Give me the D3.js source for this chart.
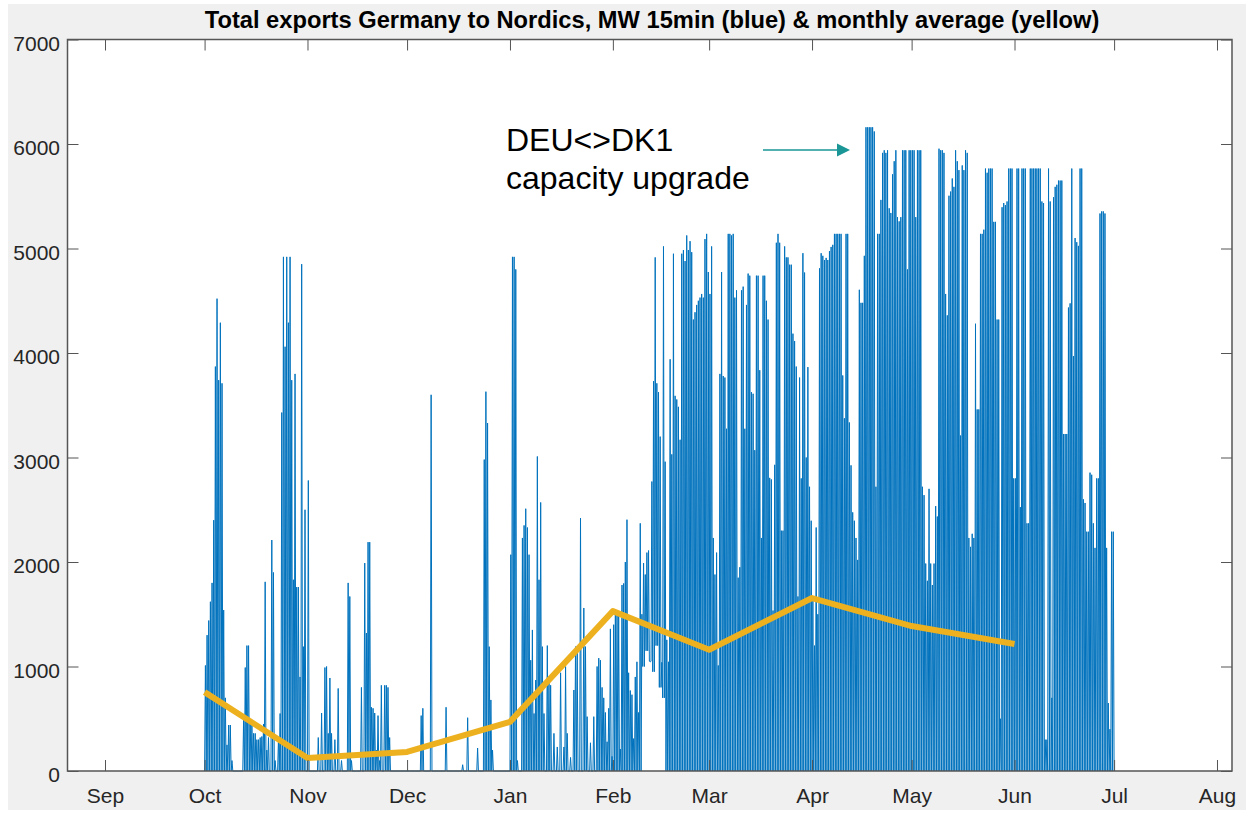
<!DOCTYPE html>
<html><head><meta charset="utf-8">
<script src="https://cdn.jsdelivr.net/npm/d3@7"></script>
<style>
html,body{margin:0;padding:0;background:#fff;}
svg{display:block;font-family:"Liberation Sans",Arial,Helvetica,sans-serif;}
</style></head><body>
<svg id="chart" width="1254" height="813"></svg>
<script>
// ---------- DATA ----------
const titleText = "Total exports Germany to Nordics, MW 15min (blue) & monthly average (yellow)";
const annotationLines = ["DEU<>DK1", "capacity upgrade"];

const xTickDates  = ["2019-09-01","2019-10-01","2019-11-01","2019-12-01","2020-01-01","2020-02-01","2020-03-01","2020-04-01","2020-05-01","2020-06-01","2020-07-01","2020-08-01"];
const xTickLabels = ["Sep","Oct","Nov","Dec","Jan","Feb","Mar","Apr","May","Jun","Jul","Aug"];
const yTicks = [0,1000,2000,3000,4000,5000,6000,7000];

// monthly average (yellow), plotted at first day of month
const avgDates = ["2019-10-01","2019-11-01","2019-12-01","2020-01-01","2020-02-01","2020-03-01","2020-04-01","2020-05-01","2020-06-01"];
const avgMW    = [755,124,182,470,1530,1160,1655,1387,1215];

// 15-min series (blue), summarised as two half-day peaks per day (MW), starting 2019-10-01
const seriesStart = "2019-10-01";
const octPeakMW = [1010,1300, 1440,1620, 1800,2400, 3870,4520, 3740,4290, 3710,1540, 700,250, 440,440, 100,0, 0,0, 0,0, 0,490, 990,1200, 1200,450, 440,360, 360,300, 300,320, 330,450, 1810,200, 320,0, 2210,1900, 100,0, 300,550, 3430,4920, 4060,4920, 4290,4920, 3740,1830, 3800,1760, 1760,900, 4850,1190, 2500,0];
const novPeakMW = [2780,0, 0,0, 0,0, 320,0, 555,0, 990,1000, 360,890, 360,0, 300,0, 790,0, 100,0, 0,0, 1800,1670, 100,0, 0,0, 0,0, 800,0, 1990,1320, 2190,2190, 610,600, 555,200, 530,100, 820,0, 820,820, 800,320, 0,0, 0,0, 0,0, 0,0, 0,0];
const decPeakMW = [0,0, 0,0, 0,0, 0,0, 530,600, 0,0, 0,0, 3600,0, 0,0, 0,0, 0,0, 0,610, 0,0, 0,0, 0,0, 0,0, 0,60, 0,0, 510,0, 0,0, 0,0, 220,0, 0,0, 2980,3630, 3330,1190, 680,200, 0,0, 0,0, 0,0, 0,0, 0,0];
const janPeakMW = [2070,4920, 4920,4800, 100,0, 0,2230, 2350,2510, 2330,2070, 1060,1350, 550,870, 3010,1830, 2570,1190, 550,0, 1200,870, 820,0, 360,0, 230,0, 940,0, 230,1000, 360,0, 130,0, 775,1190, 1130,0, 2420,0, 1560,1190, 520,0, 270,0, 520,0, 1000,1080, 1060,800, 700,560, 280,600, 1360,140];
const febPeakMW = [1400,1530, 1530,1530, 210,1780, 1795,2000, 2405,940, 770,730, 310,900, 1045,560, 2370,1500, 1990,1880, 2090,2110, 1045,2770, 3730,4915, 3710,3625, 3200,1040, 5020,2960, 1255,1045, 3940,3030, 4950,3590, 3555,3485, 3170,4950, 4985,4880, 5125,4985, 5070,4965, 4320,4390, 4460,4500, 4530,4565, 4530,5090, 5140,4775];
const marPeakMW = [4565,5020, 2230,1880, 2090,1010, 3800,4775, 3780,3765, 3275,5140, 5140,5125, 5140,4530, 4600,1850, 1950,4600, 4635,3275, 4460,4760, 4740,3625, 3610,3070, 4740,4740, 3835,2230, 4740,4740, 4500,4320, 2805,2790, 1535,2930, 5055,5140, 5055,2300, 2300,5020, 4915,4915, 4845,4845, 4185,4115, 3870,1670, 3765,2800, 4955,4770, 3000,3865, 2720,2395];
const aprPeakMW = [1650,1200, 2330,1500, 4810,4955, 4930,4890, 4910,4890, 4975,5015, 5035,5140, 5140,5140, 5140,5140, 3785,3375, 5140,5140, 3335,2925, 2475,2395, 2230,2020, 4605,4480, 4480,4930, 6160,6160, 6160,6160, 6160,6120, 2720,5140, 5140,5465, 5915,5940, 5915,5940, 5385,5340, 5710,5835, 5940,5300, 5260,5300, 5940,5940, 5940,4800, 5940,5940];
const mayPeakMW = [5940,5940, 5300,5940, 5940,5940, 2720,2640, 1985,1820, 2700,1985, 1780,1985, 2535,2435, 5955,5940, 5940,5915, 4565,4360, 5505,5545, 5670,5590, 5940,5835, 5750,3210, 5795,5750, 5940,5915, 2230,2145, 2270,2230, 4280,3460, 3460,5140, 5140,5180, 5765,5725, 5765,5765, 5765,5255, 5255,4320, 4320,500, 5395,5435, 5415,5450, 5765,5765, 5765,2800];
const junPeakMW = [2800,5765, 5765,2525, 5765,5765, 5765,2370, 2370,5765, 5765,5765, 5765,5765, 5765,5765, 5450,5435, 300,300, 5765,5450, 700,5490, 5590,5610, 5650,5650, 5650,3225, 3225,3225, 4435,4475, 5765,3970, 5100,5060, 5025,5765, 5765,2600, 2565,2290, 2290,2855, 2835,2370, 2135,2800, 2800,5335, 5355,5355, 5335,2135, 650,400, 2290,2290];
// days on which the series did not fall back to 0 MW (daily floor, MW); all other days fall to 0
const troughMW = [["2020-02-10",1000],["2020-02-11",1150],["2020-02-12",1050],["2020-02-13",950],["2020-02-14",1200],["2020-02-15",800],["2020-02-16",700]];

// ---------- LAYOUT ----------
const L = 67.5, R = 1232, T = 39.5, B = 771;
const DAY = 864e5;
const parse = s => new Date(s + "T00:00:00Z");

const svg = d3.select("#chart");
svg.append("rect").attr("x",8).attr("y",4).attr("width",1238).attr("height",806).attr("fill","#f0f0f0");
svg.append("rect").attr("x",L).attr("y",T).attr("width",R-L).attr("height",B-T).attr("fill","#ffffff");

const x = d3.scaleUtc()
  .domain([new Date(parse("2019-09-01").getTime() - 11.3*DAY), new Date(parse("2020-08-01").getTime() + 4.52*DAY)])
  .range([L, R]);
const y = d3.scaleLinear().domain([0,7000]).range([B, T]);

svg.append("clipPath").attr("id","plotclip").append("rect")
  .attr("x",L).attr("y",T-4).attr("width",R-L).attr("height",B-T+8);

// blue series points
const peaks = [].concat(octPeakMW, novPeakMW, decPeakMW, janPeakMW, febPeakMW, marPeakMW, aprPeakMW, mayPeakMW, junPeakMW);
const troughMap = new Map(troughMW.map(([d,v]) => [parse(d).getTime(), v]));
const t0 = parse(seriesStart).getTime();
const nDays = peaks.length / 2;
const pts = [];
for (let i = 0; i < nDays; i++) {
  const t = t0 + i*DAY;
  const m = troughMap.get(t) || 0;
  pts.push([t, m], [t + DAY/4, peaks[2*i]], [t + DAY/2, m], [t + 3*DAY/4, peaks[2*i+1]]);
}
pts.push([t0 + nDays*DAY, 0]);

const line = d3.line().x(d => x(new Date(d[0]))).y(d => y(d[1]));
const plot = svg.append("g").attr("clip-path","url(#plotclip)");
plot.append("path").datum(pts).attr("d", line)
  .attr("fill","none").attr("stroke","#0072BD").attr("stroke-width",1).attr("stroke-linejoin","miter");

const avgPts = avgDates.map((d,i) => [parse(d).getTime(), avgMW[i]]);
plot.append("path").datum(avgPts).attr("d", line)
  .attr("fill","none").attr("stroke","#EDB120").attr("stroke-width",6)
  .attr("stroke-linejoin","round").attr("stroke-linecap","butt");

// axes (MATLAB style: ticks inward, box)
const axisColor = "#555";
const tickFont = 21;
const xTickVals = xTickDates.map(parse);
const gx = svg.append("g").attr("transform",`translate(0,${B})`)
  .call(d3.axisBottom(x).tickValues(xTickVals).tickFormat((d,i) => xTickLabels[i]).tickSizeInner(-11).tickSizeOuter(0).tickPadding(17.4));
const gxTop = svg.append("g").attr("transform",`translate(0,${T})`)
  .call(d3.axisTop(x).tickValues(xTickVals).tickFormat("").tickSizeInner(-11).tickSizeOuter(0));
const gy = svg.append("g").attr("transform",`translate(${L},0)`)
  .call(d3.axisLeft(y).tickValues(yTicks).tickFormat(d3.format("d")).tickSizeInner(-11).tickSizeOuter(0).tickPadding(7.5));
const gyR = svg.append("g").attr("transform",`translate(${R},0)`)
  .call(d3.axisRight(y).tickValues(yTicks).tickFormat("").tickSizeInner(-11).tickSizeOuter(0));

[gx,gxTop,gy,gyR].forEach(g => {
  g.select(".domain").remove();
  g.selectAll(".tick line").attr("stroke",axisColor).attr("stroke-width",1);
  g.selectAll("text").attr("font-family",'"Liberation Sans",Arial,Helvetica,sans-serif')
    .attr("font-size",tickFont).attr("fill","#262626");
});
gy.selectAll("text").attr("dy","0.5em");

svg.append("rect").attr("x",L).attr("y",T).attr("width",R-L).attr("height",B-T)
  .attr("fill","none").attr("stroke",axisColor).attr("stroke-width",1.5);

// title
const title = svg.append("text").attr("x",652).attr("y",28.3).attr("text-anchor","middle")
  .attr("font-weight","bold").attr("font-size",22).attr("fill","#000").text(titleText);
const tw = title.node().getComputedTextLength();
title.attr("font-size", 22 * 895 / tw);

// annotation
svg.append("text").attr("x",506).attr("y",151).attr("font-size",32).attr("fill","#000").text(annotationLines[0]);
svg.append("text").attr("x",506).attr("y",189).attr("font-size",32).attr("fill","#000").text(annotationLines[1]);
const arrowColor = "#1a9696";
svg.append("line").attr("x1",763).attr("y1",150).attr("x2",839).attr("y2",150)
  .attr("stroke",arrowColor).attr("stroke-width",1.3);
svg.append("path").attr("d","M837,143.5 L850,150 L837,156.5 Z").attr("fill",arrowColor);
</script>
</body></html>
